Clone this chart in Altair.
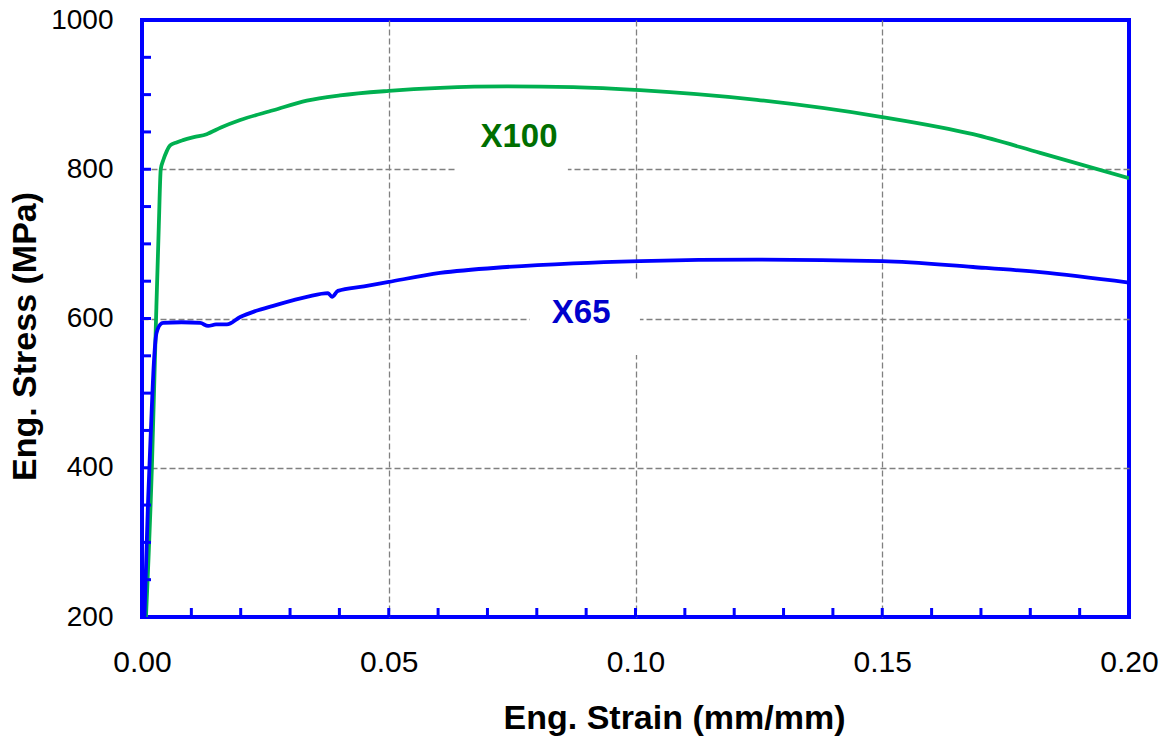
import altair as alt
import pandas as pd

# Engineering stress-strain curves for two pipeline steels
x100_strain = [0.0008, 0.0020, 0.0028, 0.0034, 0.0038, 0.0043, 0.0050, 0.0057, 0.0070,
               0.0083, 0.0105, 0.0131, 0.0160, 0.0199, 0.0266, 0.0334, 0.0401, 0.0500,
               0.0604, 0.0739, 0.0874, 0.1009, 0.1246, 0.1500, 0.1684, 0.1820, 0.2000]
x100_stress = [200, 400, 589, 723, 800, 812, 824, 832, 836,
               839, 843, 847, 856, 866, 879, 892, 899, 905,
               909, 911, 910, 906, 893, 870, 847, 822, 788]

x65_strain = [0.0005, 0.0012, 0.0018, 0.0024, 0.0028, 0.0032, 0.0037, 0.0043, 0.0080,
              0.0118, 0.0134, 0.0150, 0.0172, 0.0199, 0.0230, 0.0266, 0.0334, 0.0377,
              0.0385, 0.0397, 0.0450, 0.0500, 0.0604, 0.0739, 0.0874, 0.1009, 0.1246,
              0.1500, 0.1684, 0.1820, 0.2000]
x65_stress = [200, 350, 450, 540, 575, 586, 592, 594, 595,
              594, 590, 592, 592, 602, 610, 617, 629, 634,
              629, 637, 643, 649, 661, 669, 674, 677, 679,
              677, 669, 662, 648]

series_names = ["X100", "X65"]
line_colors = ["#00B050", "#0000FF"]
text_colors = ["#006E00", "#0000CC"]

# label positions and their white backing boxes (data units)
label_strain = [0.0764, 0.0890]
label_stress = [843, 607]
box_strain0 = [0.0638, 0.0786]
box_strain1 = [0.0863, 0.1009]
box_stress0 = [790, 551]
box_stress1 = [862, 651]

x_tick_labels = [0.0, 0.05, 0.10, 0.15, 0.20]
y_tick_labels = [200, 400, 600, 800, 1000]
x_minor = [0.01, 0.02, 0.03, 0.04, 0.05, 0.06, 0.07, 0.08, 0.09, 0.10,
           0.11, 0.12, 0.13, 0.14, 0.15, 0.16, 0.17, 0.18, 0.19]
y_minor = [250, 300, 350, 400, 450, 500, 550, 600, 650, 700, 750, 800,
           850, 900, 950]

curves = pd.concat([
    pd.DataFrame({"strain": x100_strain, "stress": x100_stress, "grade": "X100"}),
    pd.DataFrame({"strain": x65_strain, "stress": x65_stress, "grade": "X65"}),
], ignore_index=True)

labels = pd.DataFrame({
    "grade": series_names, "strain": label_strain, "stress": label_stress,
    "s0": box_strain0, "s1": box_strain1, "p0": box_stress0, "p1": box_stress1,
})

xs = alt.Scale(domain=[0, 0.2], nice=False, zero=False)
ys = alt.Scale(domain=[200, 1000], nice=False, zero=False)

FONT = "Liberation Sans"
COMMON = dict(grid=True, gridColor="#808080", gridDash=[6, 3], gridWidth=1.3,
              domain=False, ticks=False, labelFont=FONT, labelColor="#000000",
              labelFlush=False, labelOverlap=False,
              titleFont=FONT, titleFontSize=34, titleFontWeight="bold",
              titleColor="#000000")
# no grid line on the frame edges
X_AX = alt.Axis(values=x_tick_labels, format=".2f", title="Eng. Strain (mm/mm)",
                labelFontSize=30, labelPadding=30, titlePadding=24, titleX=532,
                gridOpacity={"condition": {"test": "datum.value <= 0 || datum.value >= 0.2",
                                           "value": 0}, "value": 1},
                **COMMON)
Y_AX = alt.Axis(values=y_tick_labels, format="d", title="Eng. Stress (MPa)",
                labelFontSize=28, labelPadding=29, titlePadding=8, titleY=316,
                gridOpacity={"condition": {"test": "datum.value <= 200 || datum.value >= 1000",
                                           "value": 0}, "value": 1},
                **COMMON)

lines = alt.Chart(curves).mark_line(strokeWidth=3.8, clip=True, interpolate="monotone").encode(
    x=alt.X("strain:Q", scale=xs, axis=X_AX),
    y=alt.Y("stress:Q", scale=ys, axis=Y_AX),
    color=alt.Color("grade:N", scale=alt.Scale(domain=series_names, range=line_colors),
                    legend=None),
)

boxes = alt.Chart(labels).mark_rect(color="white").encode(
    x=alt.X("s0:Q", scale=xs, axis=X_AX), x2="s1:Q",
    y=alt.Y("p0:Q", scale=ys, axis=Y_AX), y2="p1:Q",
)

texts = alt.Chart(labels).mark_text(font=FONT, fontSize=33, fontWeight="bold",
                                    align="center", baseline="middle").encode(
    x=alt.X("strain:Q", scale=xs, axis=X_AX),
    y=alt.Y("stress:Q", scale=ys, axis=Y_AX),
    text="grade:N",
    color=alt.Color("grade:N", scale=alt.Scale(domain=series_names, range=text_colors),
                    legend=None),
)

xt = alt.Chart(pd.DataFrame({"strain": x_minor})).mark_rule(color="#0000FF", strokeWidth=3).encode(
    x=alt.X("strain:Q", scale=xs, axis=X_AX), y=alt.value(597), y2=alt.value(588),
)
yt = alt.Chart(pd.DataFrame({"stress": y_minor})).mark_rule(color="#0000FF", strokeWidth=3).encode(
    y=alt.Y("stress:Q", scale=ys, axis=Y_AX), x=alt.value(0), x2=alt.value(9),
)

chart = alt.layer(boxes, lines, texts, xt, yt).resolve_scale(color="independent").properties(
    width=987, height=597,
    autosize=alt.AutoSizeParams(type="none"),
    padding={"left": 142, "top": 20, "right": 37, "bottom": 125},
    background="white",
).configure_view(stroke="#0000FF", strokeWidth=4)

chart.save("out.html", embed_options={"renderer": "svg", "actions": False})
